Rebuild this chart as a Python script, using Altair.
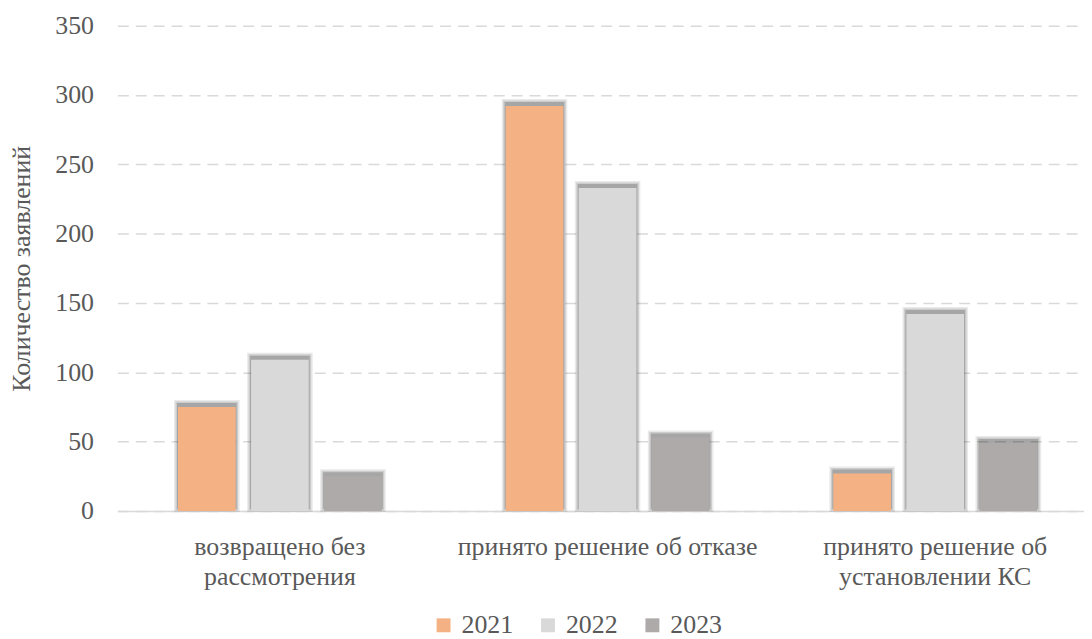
import altair as alt
import pandas as pd

categories = ["возвращено без рассмотрения", "принято решение об отказе", "принято решение об установлении КС"]
label_lines = [["возвращено без", "рассмотрения"], ["принято решение об отказе"], ["принято решение об", "установлении КС"]]
years = ["2021", "2022", "2023"]
values_2021 = [75, 292, 27]
values_2022 = [109, 233, 142]
values_2023 = [25, 53, 49]
colors = ["#F4B183", "#D9D9D9", "#AEAAAA"]

rows = []
for i, c in enumerate(categories):
    for y, vals in zip(years, [values_2021, values_2022, values_2023]):
        rows.append({"cat": c, "year": y, "value": vals[i]})
df = pd.DataFrame(rows)

label_expr = "datum.value == '%s' ? %s : datum.value == '%s' ? %s : %s" % (
    categories[0], str(label_lines[0]),
    categories[1], str(label_lines[1]),
    str(label_lines[2]),
)

FONT = "Liberation Serif, Tinos, DejaVu Serif, serif"
TXT = "#595959"
FS = 26

x_enc = alt.X("cat:N", sort=categories,
              scale=alt.Scale(paddingInner=0.378, paddingOuter=0.164, align=0.564),
              axis=alt.Axis(title=None, labelExpr=label_expr, labelAngle=0, labelAlign="center",
                            labelFont=FONT,
                            labelFontSize=FS, labelColor=TXT, labelPadding=23, labelLineHeight=30,
                            labelLimit=500, ticks=False, domain=True, domainColor="#D9D9D9",
                            domainWidth=1.5, labelBaseline="top"))
y_enc = alt.Y("value:Q", scale=alt.Scale(domain=[0, 350]),
              axis=alt.Axis(title="Количество заявлений", values=[0, 50, 100, 150, 200, 250, 300, 350],
                            titleFont=FONT, titleFontSize=FS, titleFontWeight="normal", titleColor=TXT,
                            titlePadding=20, labelFont=FONT, labelFontSize=FS, labelColor=TXT,
                            labelPadding=24, ticks=False, domain=False, grid=True,
                            gridColor="#D9D9D9", gridDash=[11, 7], gridWidth=1.5))
xo_enc = alt.XOffset("year:N", sort=years, scale=alt.Scale(paddingInner=0.211, paddingOuter=0))

base = alt.Chart(df)

shadows = []
for w, op in [(8, 0.08), (5, 0.12), (2, 0.18)]:
    shadows.append(
        base.mark_bar(color="#000000", stroke="#000000", strokeWidth=w, opacity=op,
                      xOffset=4, x2Offset=4, yOffset=-3, y2Offset=-3)
        .encode(x=alt.X("cat:N", sort=categories), xOffset=alt.XOffset("year:N", sort=years), y="value:Q")
    )

bars = base.mark_bar().encode(
    x=x_enc, y=y_enc, xOffset=xo_enc,
    color=alt.Color("year:N", sort=years, scale=alt.Scale(domain=years, range=colors),
                    legend=alt.Legend(title=None, orient="none", legendX=315, legendY=590,
                                      direction="horizontal", symbolType="square", symbolSize=196,
                                      symbolStrokeWidth=0, labelFont=FONT, labelFontSize=FS,
                                      labelColor=TXT, columnPadding=22, labelOffset=5)),
)

chart = alt.layer(*shadows, bars).properties(
    width=972, height=488,
    padding={"left": 110, "top": 16, "right": 0, "bottom": 127},
    autosize=alt.AutoSizeParams(type="none"),
).configure(font=FONT).configure_view(stroke=None)

chart.save("out.html", embed_options={"renderer": "svg", "actions": False})
